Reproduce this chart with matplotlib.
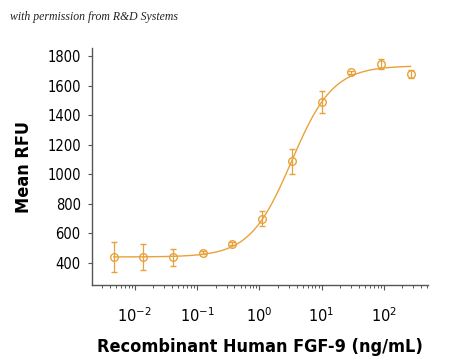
import numpy as np
import matplotlib
matplotlib.use("Agg")
import matplotlib.pyplot as plt
from matplotlib.ticker import LogLocator, FixedLocator, NullFormatter

# ---- data ----
conc = [0.0046, 0.0137, 0.041, 0.123, 0.37, 1.11, 3.33, 10.0, 30.0, 90.0, 270.0]
rfu = [440, 440, 437, 470, 530, 700, 1088, 1492, 1690, 1748, 1680]
err = [100, 85, 55, 10, 10, 50, 85, 75, 10, 35, 25]

# fitted 4PL curve parameters
fit_bottom = 440
fit_top = 1735
fit_ec50 = 3.3
fit_hill = 1.3

yticks = [400, 600, 800, 1000, 1200, 1400, 1600, 1800]
xticks = [1e-2, 1e-1, 1e0, 1e1, 1e2]
xticklabels = [r"$10^{-2}$", r"$10^{-1}$", r"$10^{0}$", r"$10^{1}$", r"$10^{2}$"]

color = "#E8A23C"

fig = plt.figure(figsize=(4.5, 3.64), dpi=100)
ax = fig.add_axes([0.204, 0.217, 0.747, 0.651])

xs = np.logspace(np.log10(conc[0]), np.log10(conc[-1]), 300)
ys = fit_bottom + (fit_top - fit_bottom) / (1 + (fit_ec50 / xs) ** fit_hill)
ax.plot(xs, ys, color=color, lw=1.0, zorder=2)

ax.errorbar(conc, rfu, yerr=err, fmt="o", mfc="none", mec=color, ms=5.5,
            mew=1.0, ecolor=color, elinewidth=0.9, capsize=2.5, capthick=0.9,
            zorder=3)

ax.set_xscale("log")
ax.set_xlim(10 ** -2.69, 10 ** 2.71)
ax.set_ylim(250, 1855)

ax.set_yticks(yticks)
ax.set_yticklabels([str(v) for v in yticks], fontstretch="condensed", fontsize=10.5)
ax.xaxis.set_major_locator(FixedLocator(xticks))
ax.set_xticklabels(xticklabels, fontsize=10.5)
ax.xaxis.set_minor_locator(LogLocator(base=10, subs=np.arange(2, 10)))
ax.xaxis.set_minor_formatter(NullFormatter())

for s in ["top", "right"]:
    ax.spines[s].set_visible(False)
for s in ["left", "bottom"]:
    ax.spines[s].set_color("#555555")
    ax.spines[s].set_linewidth(1.0)

ax.tick_params(axis="y", which="major", length=3, width=0.8, color="#555555", pad=5)
ax.tick_params(axis="x", which="major", length=3.5, width=0.8, color="#555555", pad=12)
ax.tick_params(axis="x", which="minor", length=2.5, width=0.7, color="#555555")

ax.set_xlabel("Recombinant Human FGF-9 (ng/mL)", fontstretch="condensed", fontweight="bold",
              fontsize=13, labelpad=9)
ax.set_ylabel("Mean RFU", fontstretch="condensed", fontweight="bold", fontsize=13, labelpad=10)

fig.text(0.022, 0.952, "with permission from R&D Systems", family=["Liberation Serif", "DejaVu Serif"],
         style="italic", fontsize=8.5, color="#222222", va="center", ha="left")

fig.savefig("out.png", dpi=100, facecolor="white")
